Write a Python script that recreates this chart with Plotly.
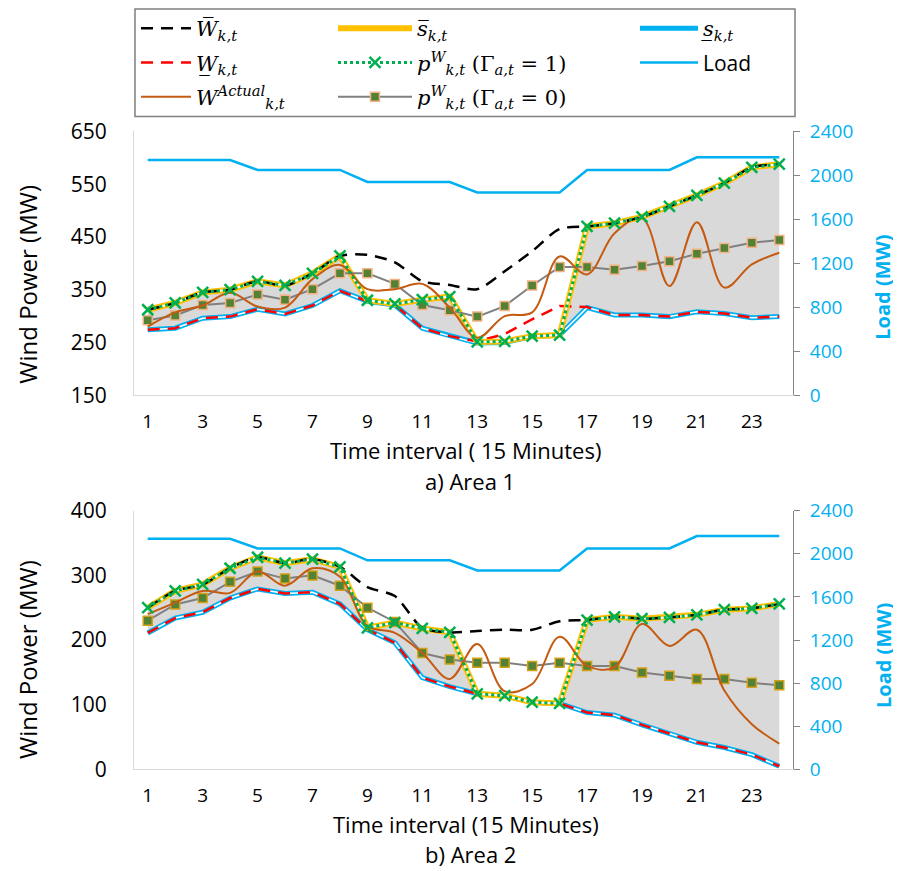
import plotly.graph_objects as go

# ---------------- data ----------------
intervals = [1, 2, 3, 4, 5, 6, 7, 8, 9, 10, 11, 12, 13, 14, 15, 16, 17, 18, 19, 20, 21, 22, 23, 24]
x_tick_values = [1, 3, 5, 7, 9, 11, 13, 15, 17, 19, 21, 23]
x_tick_labels = ["1", "3", "5", "7", "9", "11", "13", "15", "17", "19", "21", "23"]

load_mw = [2140, 2140, 2140, 2140, 2050, 2050, 2050, 2050, 1940, 1940, 1940, 1940,
           1845, 1845, 1845, 1845, 2050, 2050, 2050, 2050, 2165, 2165, 2165, 2165]

# Area 1
a1_w_upper = [312, 325, 345, 350, 366, 358, 381, 414, 416, 402, 366, 359,
              351, 385, 423, 465, 470, 476, 488, 508, 529, 552, 582, 588]
a1_w_lower = [274, 277, 296, 299, 313, 304, 320, 348, 328, 321, 277, 262,
              252, 266, 294, 319, 317, 302, 302, 299, 308, 305, 297, 299]
a1_w_actual = [280, 307, 320, 344, 318, 316, 370, 397, 351, 351, 361, 316,
               259, 300, 307, 413, 379, 457, 486, 357, 478, 354, 398, 420]
a1_s_upper = [312, 325, 345, 350, 366, 358, 381, 414, 330, 323, 331, 337,
              251, 252, 262, 264, 470, 476, 488, 508, 529, 552, 582, 588]
a1_s_lower = [274, 277, 296, 299, 313, 304, 320, 348, 328, 321, 277, 262,
              249, 250, 261, 264, 316, 302, 302, 299, 308, 305, 297, 299]
a1_p_gamma1 = [312, 325, 345, 350, 366, 358, 381, 414, 330, 323, 331, 337,
               251, 252, 262, 264, 470, 476, 488, 508, 529, 552, 582, 588]
a1_p_gamma0 = [292, 301, 321, 325, 341, 331, 351, 381, 381, 361, 321, 311,
               299, 319, 358, 393, 393, 388, 395, 404, 418, 429, 439, 444]

# Area 2
a2_w_upper = [250, 276, 286, 311, 328, 319, 325, 313, 282, 268, 219, 212,
              214, 216, 216, 229, 231, 236, 233, 235, 239, 247, 249, 256]
a2_w_lower = [211, 234, 243, 265, 279, 272, 274, 256, 216, 196, 142, 128,
              117, 114, 104, 102, 88, 84, 69, 55, 42, 34, 23, 5]
a2_w_actual = [240, 258, 276, 273, 306, 284, 311, 298, 222, 211, 180, 140,
               194, 121, 132, 205, 160, 158, 225, 191, 216, 122, 70, 40]
a2_s_upper = [250, 276, 286, 311, 328, 319, 325, 313, 219, 227, 218, 212,
              117, 114, 104, 102, 231, 236, 233, 235, 239, 247, 249, 256]
a2_s_lower = [211, 234, 243, 265, 279, 272, 274, 256, 216, 196, 142, 128,
              117, 114, 104, 102, 88, 84, 69, 55, 42, 34, 23, 5]
a2_p_gamma1 = [250, 276, 286, 311, 328, 319, 325, 313, 219, 227, 218, 212,
               117, 114, 104, 102, 231, 236, 233, 235, 239, 247, 249, 256]
a2_p_gamma0 = [230, 255, 265, 290, 306, 295, 300, 284, 250, 228, 180, 170,
               165, 165, 160, 165, 160, 160, 150, 145, 140, 140, 134, 130]

# ---------------- styling ----------------
SANS = "Open Sans"
SERIF = "DejaVu Serif"
C_BLUE = "#00B0F0"
C_YELLOW = "#FFC000"
C_GREEN = "#00B050"
C_ORANGE = "#C55A11"
C_GRAY = "#808080"
C_FILL = "#D9D9D9"

lbl_w_up = "<i>W\u0305</i><sub><i>k,t</i></sub>"
lbl_w_lo = "<i>W\u0332</i><sub><i>k,t</i></sub>"
lbl_w_act = "<i>W</i><sup><i>Actual</i></sup><sub><i>k,t</i></sub>"
lbl_s_up = "<i>s\u0305</i><sub><i>k,t</i></sub>"
lbl_p1 = "<i>p</i><sup><i>W</i></sup><sub><i>k,t</i></sub> (\u0393<sub><i>a,t</i></sub> = 1)"
lbl_p0 = "<i>p</i><sup><i>W</i></sup><sub><i>k,t</i></sub> (\u0393<sub><i>a,t</i></sub> = 0)"
lbl_s_lo = "<i>s\u0332</i><sub><i>k,t</i></sub>"
lbl_load = "<span style=\"font-family:'Open Sans'\">Load</span>"

fig = go.Figure()


def add_area(xa, ya, ya_load, w_up, w_lo, w_act, s_up, s_lo, p1, p0, p0_edge, show):
    common = dict(x=intervals, xaxis=xa, hoverinfo="skip")
    # shaded band between lower and upper schedule
    fig.add_trace(go.Scatter(y=s_lo, yaxis=ya, mode="lines", line=dict(width=0),
                             showlegend=False, **common))
    fig.add_trace(go.Scatter(y=s_up, yaxis=ya, mode="lines", line=dict(width=0),
                             fill="tonexty", fillcolor=C_FILL, showlegend=False, **common))
    # lower schedule (double blue line)
    fig.add_trace(go.Scatter(y=s_lo, yaxis=ya, mode="lines", name=lbl_s_lo,
                             line=dict(color=C_BLUE, width=5), showlegend=show,
                             legend="legend3", legendrank=1, legendgroup="slo", **common))
    fig.add_trace(go.Scatter(y=s_lo, yaxis=ya, mode="lines", line=dict(color="white", width=1.5),
                             showlegend=False, **common))
    # lower forecast
    fig.add_trace(go.Scatter(y=w_lo, yaxis=ya, mode="lines", name=lbl_w_lo,
                             line=dict(color="#FF0000", width=2.5, dash="12px,8px"),
                             showlegend=show, legend="legend", legendrank=2, legendgroup="wlo", **common))
    # upper schedule (double yellow line)
    fig.add_trace(go.Scatter(y=s_up, yaxis=ya, mode="lines", name=lbl_s_up,
                             line=dict(color=C_YELLOW, width=6), showlegend=show,
                             legend="legend2", legendrank=1, legendgroup="sup", **common))
    fig.add_trace(go.Scatter(y=s_up, yaxis=ya, mode="lines", line=dict(color="white", width=2),
                             showlegend=False, **common))
    # p (Gamma = 0)
    fig.add_trace(go.Scatter(y=p0, yaxis=ya, mode="lines+markers", name=lbl_p0,
                             line=dict(color=C_GRAY, width=2),
                             marker=dict(symbol="square", size=9, color="#548235",
                                         line=dict(color=p0_edge, width=1.5)),
                             showlegend=show, legend="legend2", legendrank=3, legendgroup="p0", **common))
    # actual
    fig.add_trace(go.Scatter(y=w_act, yaxis=ya, mode="lines", name=lbl_w_act,
                             line=dict(color=C_ORANGE, width=2, shape="spline", smoothing=1.0),
                             showlegend=show, legend="legend", legendrank=3, legendgroup="wact", **common))
    # upper forecast
    fig.add_trace(go.Scatter(y=w_up, yaxis=ya, mode="lines", name=lbl_w_up,
                             line=dict(color="black", width=2.5, dash="12px,8px", shape="spline", smoothing=0.8),
                             showlegend=show, legend="legend", legendrank=1, legendgroup="wup", **common))
    # p (Gamma = 1)
    fig.add_trace(go.Scatter(y=p1, yaxis=ya, mode="lines+markers", name=lbl_p1,
                             line=dict(color=C_GREEN, width=3, dash="3px,3px"),
                             marker=dict(symbol="x-thin", size=11, color=C_GREEN,
                                         line=dict(color=C_GREEN, width=2.5)),
                             showlegend=show, legend="legend2", legendrank=2, legendgroup="p1", **common))
    # load on secondary axis
    fig.add_trace(go.Scatter(y=load_mw, yaxis=ya_load, mode="lines", name=lbl_load,
                             line=dict(color=C_BLUE, width=2.5),
                             showlegend=show, legend="legend3", legendrank=2, legendgroup="load", **common))


add_area("x", "y", "y2", a1_w_upper, a1_w_lower, a1_w_actual, a1_s_upper, a1_s_lower,
         a1_p_gamma1, a1_p_gamma0, "#F4B183", True)
add_area("x2", "y3", "y4", a2_w_upper, a2_w_lower, a2_w_actual, a2_s_upper, a2_s_lower,
         a2_p_gamma1, a2_p_gamma0, "#D4A017", False)

# the page body adds an 8px offset; the figure fills the rest of the window
OFF = 8
W, H = 901 - OFF, 871 - OFF


def px(x):
    return (x - OFF) / W


def py(y):
    return 1 - (y - OFF) / H


xdom = [px(134), px(793)]
top_dom = [py(393), py(128)]
bot_dom = [py(769), py(509)]

xcommon = dict(domain=xdom, range=[0.5, 24.5], tickmode="array", tickvals=x_tick_values,
               ticktext=x_tick_labels, showline=True, linecolor="#D9D9D9", linewidth=1,
               ticks="", showgrid=False, zeroline=False, automargin=False,
               tickfont=dict(family=SANS, size=19, color="black"), ticklabelstandoff=9)
yleft = dict(showline=True, linecolor="#D9D9D9", linewidth=1, ticks="", showgrid=False,
             zeroline=False, automargin=False, ticklabelstandoff=22,
             tickfont=dict(family=SANS, size=21, color="black"))
yright = dict(side="right", range=[0, 2400], tick0=0, dtick=400, showline=True, linecolor="#868686",
              linewidth=1, ticks="outside", ticklen=6, tickcolor="#868686", showgrid=False,
              zeroline=False, automargin=False, ticklabelstandoff=6,
              tickfont=dict(family=SANS, size=19, color=C_BLUE))

legend_common = dict(orientation="v", xanchor="left", yanchor="top", yref="paper", xref="paper",
                     bgcolor="rgba(0,0,0,0)", borderwidth=0, traceorder="grouped", tracegroupgap=4,
                     font=dict(family=SERIF, size=21, color="black"))

big_font = dict(family=SANS, size=22, color="black")
yt_font = dict(family=SANS, size=24, color="black")
load_font = dict(family=SANS, size=20, color=C_BLUE, weight="bold")


def ann(text, x, y, font, angle=0):
    return dict(text=text, xref="paper", yref="paper", x=px(x), y=py(y), showarrow=False,
                font=font, xanchor="center", yanchor="middle", textangle=angle)


fig.update_layout(
    width=W, height=H, margin=dict(l=0, r=0, t=0, b=0),
    paper_bgcolor="white", plot_bgcolor="white",
    showlegend=True,
    xaxis=dict(**xcommon, anchor="y"),
    yaxis=dict(**yleft, domain=top_dom, range=[150, 650], tick0=150, dtick=100, anchor="x"),
    yaxis2=dict(**yright, overlaying="y", anchor="x"),
    xaxis2=dict(**xcommon, anchor="y3"),
    yaxis3=dict(**yleft, domain=bot_dom, range=[0, 400], tick0=0, dtick=100, anchor="x2"),
    yaxis4=dict(**yright, overlaying="y3", anchor="x2"),
    legend=dict(**legend_common, x=px(136), y=py(4), itemwidth=50),
    legend2=dict(**legend_common, x=px(333), y=py(4), itemwidth=74),
    legend3=dict(**legend_common, x=px(635), y=py(4), itemwidth=58),
    shapes=[dict(type="rect", xref="paper", yref="paper", x0=px(135), x1=px(795),
                 y0=py(113), y1=py(5), line=dict(color="#7F7F7F", width=1.5))],
    annotations=[
        ann("Wind Power (MW)", 28, 282, yt_font, -90),
        ann("Wind Power (MW)", 28, 659, yt_font, -90),
        ann("Load (MW)", 883, 285, load_font, -90),
        ann("Load (MW)", 883, 655, load_font, -90),
        ann("Time interval ( 15 Minutes)", 466, 448, big_font),
        ann("Time interval (15 Minutes)", 466, 824, big_font),
        ann("a) Area 1", 470, 479, big_font),
        ann("b) Area 2", 470, 854, big_font),
    ],
)

fig.write_html("out.html")
